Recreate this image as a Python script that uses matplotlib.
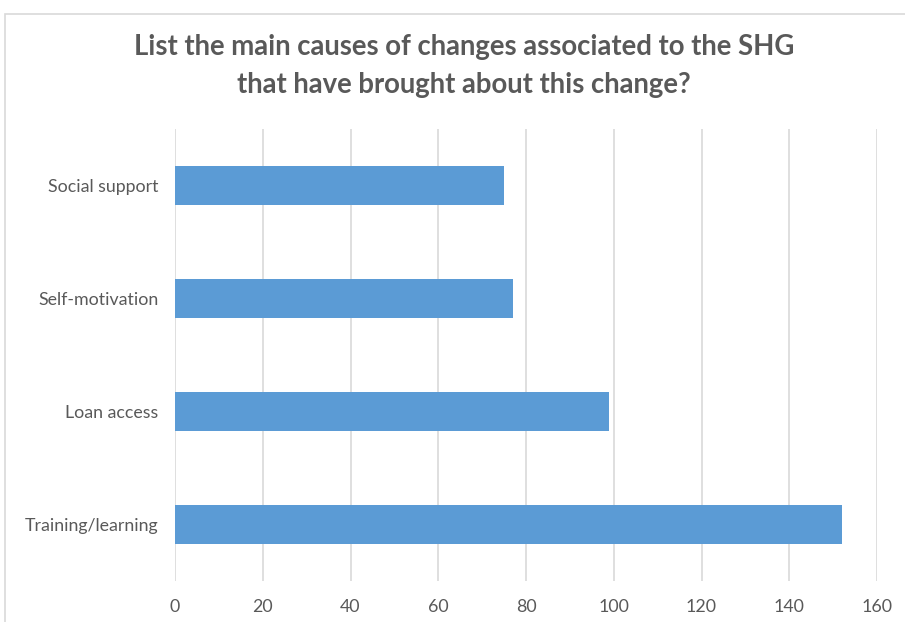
import numpy as np
import matplotlib.pyplot as plt
from matplotlib.patches import Rectangle

categories = ['Training/learning', 'Loan access', 'Self-motivation', 'Social support']
counts = [152, 99, 77, 75]
x_ticks = [0, 20, 40, 60, 80, 100, 120, 140, 160]

plt.rcParams['font.family'] = ['Lato', 'DejaVu Sans']

fig = plt.figure(figsize=(9.05, 6.22), dpi=100)
ax = fig.add_axes([175 / 905, 1 - 581 / 622, 702 / 905, 452 / 622])

# chart frame, cut off at the right and bottom edges
fig.patches.append(Rectangle((5 / 905, -0.1), 1.2, 1 - 14 / 622 + 0.1,
                             transform=fig.transFigure, fill=False,
                             edgecolor='#d9d9d9', linewidth=1.2))

y = np.arange(len(categories))
ax.barh(y, counts, height=0.345, color='#5b9bd5', zorder=3)

ax.set_xlim(0, 160)
ax.set_ylim(-0.5, len(categories) - 0.5)
ax.set_xticks(x_ticks)
ax.set_yticks(y)
ax.set_yticklabels(categories)
ax.grid(axis='x', color='#d9d9d9', linewidth=1.2, zorder=0)
for s in ax.spines.values():
    s.set_visible(False)
ax.tick_params(length=0, labelsize=12.8, colors='#595959')
ax.tick_params(axis='x', pad=13)
ax.tick_params(axis='y', pad=12)

fig.text(464 / 905, 1 - 66 / 622,
         'List the main causes of changes associated to the SHG\nthat have brought about this change?',
         ha='center', va='center', fontsize=19.8, fontweight='bold', color='#595959',
         linespacing=1.55)

fig.savefig('out.png', dpi=100)
